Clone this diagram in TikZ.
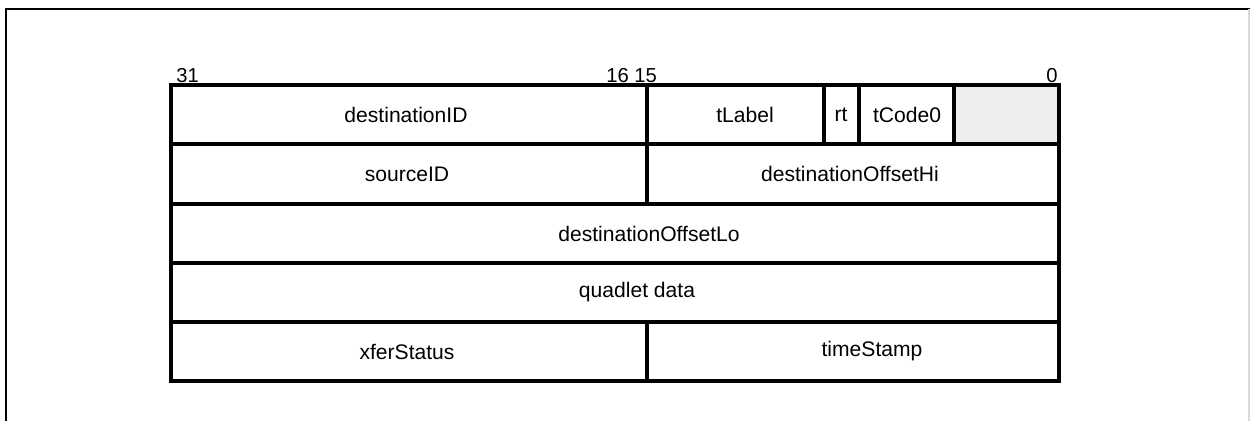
\documentclass[tikz,border=0pt]{standalone}
\usepackage{fontspec}
\setmainfont{Liberation Sans}
\begin{document}
\begin{tikzpicture}[
  x=0.02cm, y=-0.02cm,
  frame/.style={line width=1.6pt, black},
  edge/.style={line width=1.9pt, black},
  reserved/.style={fill=black!7},
  field/.style={font=\fontsize{12}{14}\selectfont, inner sep=0pt},
  bitno/.style={font=\fontsize{11.5}{13}\selectfont, inner sep=0pt}
]
\useasboundingbox (0,0) rectangle (1250,421);

% === Outer frame ===
\draw[frame] (6,421) -- (6,9) -- (1250,9);
\draw[black!15, line width=0.8pt] (1249,9) -- (1249,421);

% === Reserved bits ===
\fill[reserved] (954,85) rectangle (1059,144);

% === Quadlet grid ===
\draw[edge] (171,85) rectangle (1059,381);
\foreach \y in {144,204,263,322}
  \draw[edge] (171,\y) -- (1059,\y);
\draw[edge] (647,85) -- (647,204);
\draw[edge] (647,322) -- (647,381);
\foreach \x in {824,859,954}
  \draw[edge] (\x,85) -- (\x,144);

% Bit numbers
\node[bitno, anchor=base west] (b31) at (176,83) {31};
\node[bitno, anchor=base west] (b16) at (606,83) {16 15};
\node[bitno, anchor=base east] (b0) at (1058,83) {0};

% Row 1
\node[field] (destID) at (406,114.5) {destinationID};
\node[field] (tlabel) at (745,114.5) {tLabel};
\node[field] (rt) at (841,114.5) {rt};
\node[field] (tcode) at (907,114.5) {tCode0};

% Row 2
\node[field] (srcID) at (407,174) {sourceID};
\node[field] (offHi) at (850,174) {destinationOffsetHi};

% Row 3
\node[field] (offLo) at (649,233.5) {destinationOffsetLo};

% Row 4
\node[field] (data) at (637,292.5) {quadlet data};

% Row 5
\node[field] (status) at (407,351.5) {xferStatus};
\node[field] (stamp) at (872,351.5) {timeStamp};
\end{tikzpicture}
\end{document}
